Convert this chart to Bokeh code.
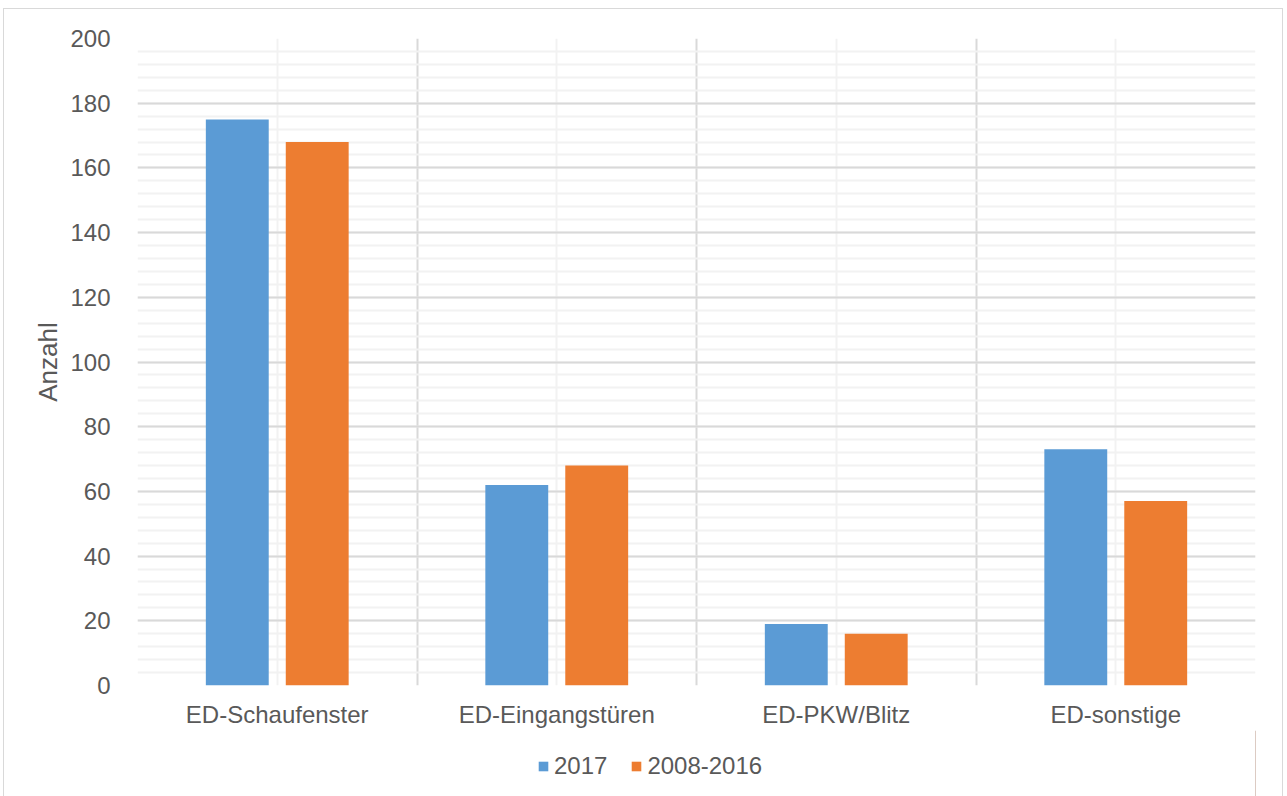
from bokeh.plotting import figure
from bokeh.layouts import column
from bokeh.models import (ColumnDataSource, FixedTicker, Range1d, Legend, LegendItem)
from bokeh.embed import file_html
from bokeh.resources import INLINE

categories = ["ED-Schaufenster", "ED-Eingangstüren", "ED-PKW/Blitz", "ED-sonstige"]
series_names = ["2017", "2008-2016"]
values_2017 = [175, 62, 19, 73]
values_2008_2016 = [168, 68, 16, 57]
y_ticks = [0, 20, 40, 60, 80, 100, 120, 140, 160, 180, 200]

BLUE = "#5B9BD5"
ORANGE = "#ED7D31"
TXT = "#595959"
FONT = "Liberation Sans"

idx = list(range(len(categories)))
offset = 0.143
bar_w = 0.225

src1 = ColumnDataSource(dict(x=[i + 0.5 - offset for i in idx], top=values_2017))
src2 = ColumnDataSource(dict(x=[i + 0.5 + offset for i in idx], top=values_2008_2016))

p = figure(width=1278, height=721, output_backend="svg", toolbar_location=None,
           x_range=Range1d(0, len(categories)), y_range=Range1d(0, 200),
           min_border_left=133, min_border_right=27, min_border_top=29, min_border_bottom=37)
p.outline_line_color = None

r1 = p.vbar(x="x", top="top", width=bar_w, source=src1, fill_color=BLUE, line_color=None)
r2 = p.vbar(x="x", top="top", width=bar_w, source=src2, fill_color=ORANGE, line_color=None)

# grids
p.ygrid.ticker = FixedTicker(ticks=y_ticks, minor_ticks=[v for v in range(0, 201, 4)])
p.ygrid.grid_line_color = "#d9d9d9"
p.ygrid.grid_line_width = 2
p.ygrid.minor_grid_line_color = "#f2f2f2"
p.ygrid.minor_grid_line_width = 2
p.xgrid.ticker = FixedTicker(ticks=[0, 1, 2, 3, 4], minor_ticks=[0.5, 1.5, 2.5, 3.5])
p.xgrid.grid_line_color = "#d9d9d9"
p.xgrid.grid_line_width = 2
p.xgrid.minor_grid_line_color = "#f2f2f2"
p.xgrid.minor_grid_line_width = 2

# x axis
p.xaxis.ticker = FixedTicker(ticks=[i + 0.5 for i in idx])
p.xaxis.major_label_overrides = {i + 0.5: c for i, c in zip(idx, categories)}
p.xaxis.axis_line_color = None
p.xaxis.major_tick_line_color = None
p.xaxis.minor_tick_line_color = None
p.xaxis.major_label_text_font = FONT
p.xaxis.major_label_text_font_size = "24px"
p.xaxis.major_label_text_color = TXT
p.xaxis.major_label_standoff = 9

# y axis
p.yaxis.ticker = FixedTicker(ticks=y_ticks)
p.yaxis.axis_line_color = None
p.yaxis.major_tick_line_color = None
p.yaxis.minor_tick_line_color = None
p.yaxis.major_label_text_font = FONT
p.yaxis.major_label_text_font_size = "24px"
p.yaxis.major_label_text_color = TXT
p.yaxis.major_label_standoff = 21
p.yaxis.axis_label = "Anzahl"
p.yaxis.axis_label_text_font = FONT
p.yaxis.axis_label_text_font_size = "26px"
p.yaxis.axis_label_text_font_style = "normal"
p.yaxis.axis_label_text_color = TXT
p.yaxis.axis_label_standoff = 4

# legend strip below the chart (proxy glyphs lie outside its visible range)
leg = figure(width=1278, height=66, output_backend="svg", toolbar_location=None,
             x_range=Range1d(0, 1), y_range=Range1d(0, 1),
             min_border=0, x_axis_location=None, y_axis_location=None)
leg.outline_line_color = None
leg.xgrid.visible = False
leg.ygrid.visible = False
lr1 = leg.vbar(x=[5], top=[1], width=0.1, fill_color=BLUE, line_color=None)
lr2 = leg.vbar(x=[5], top=[1], width=0.1, fill_color=ORANGE, line_color=None)

legend = Legend(items=[LegendItem(label=series_names[0], renderers=[lr1]),
                       LegendItem(label=series_names[1], renderers=[lr2])],
                orientation="horizontal", location=(400, 16),
                glyph_width=12, glyph_height=12, label_text_font=FONT,
                label_text_font_size="24px", label_text_color=TXT,
                border_line_color=None, background_fill_alpha=0,
                spacing=23, label_standoff=5, padding=0, margin=0)
leg.add_layout(legend, "center")

layout = column(p, leg, spacing=0,
                styles={"border": "1px solid #d9d9d9", "margin-left": "3px", "margin-top": "8px"})

open("out.html", "w").write(file_html(layout, INLINE))
